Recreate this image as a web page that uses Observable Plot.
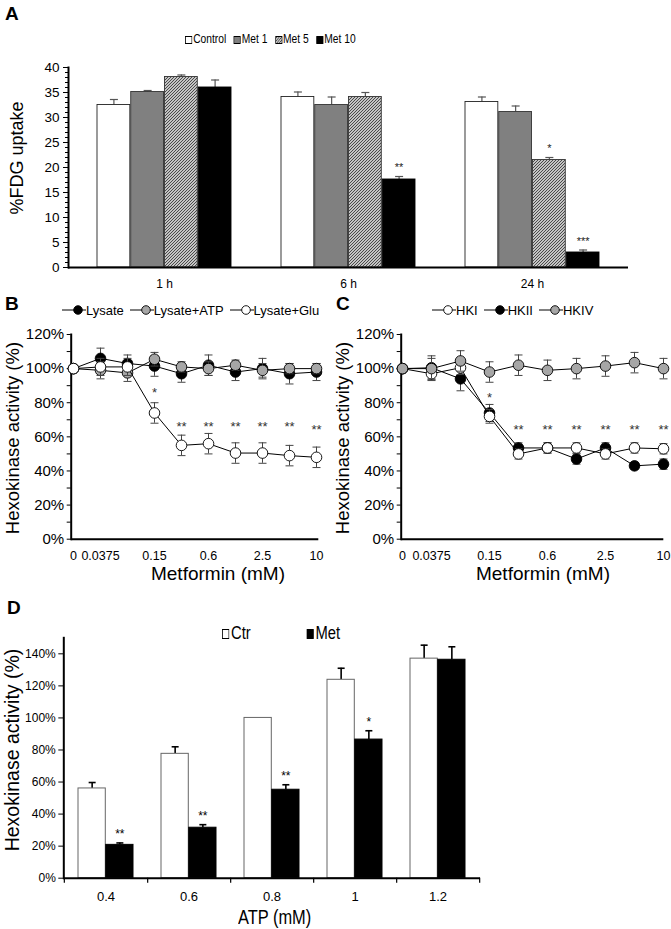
<!DOCTYPE html>
<html><head><meta charset="utf-8">
<script src="https://cdn.jsdelivr.net/npm/d3@7"></script>
<script src="https://cdn.jsdelivr.net/npm/@observablehq/plot@0.6"></script>
<style>
body{margin:0;background:#fff;}
#fig{position:relative;width:671px;height:929px;font-family:"Liberation Sans",Arial,sans-serif;color:#000;overflow:hidden;background:#fff}
.abs{position:absolute;white-space:nowrap;line-height:1}
.letter{font-weight:bold;font-size:19px}
.cond{transform-origin:0 50%;transform:scaleX(0.82)}
.ytitle{position:absolute;transform:translate(-50%,-50%) rotate(-90deg);white-space:nowrap;line-height:1}
.xtitle{position:absolute;transform:translate(-50%,-50%);white-space:nowrap;line-height:1}
</style></head><body>
<svg width="0" height="0" style="position:absolute">
  <defs>
    <pattern id="hatch" patternUnits="userSpaceOnUse" width="3" height="3">
      <rect width="3" height="3" fill="#c4c4c4"></rect>
      <path d="M-1,1 L1,-1 M0,3 L3,0 M2,4 L4,2" stroke="#4a4a4a" stroke-width="1"></path>
    </pattern>
  </defs>
</svg>
<div id="fig"></div>
<script>
// ---------- DATA ----------
// Panel A
const groupsA = ["1 h", "6 h", "24 h"];
const seriesA = ["Control", "Met 1", "Met 5", "Met 10"];
const controlA = [32.5, 34.1, 33.1];
const met1A = [35.1, 32.5, 31.1];
const met5A = [38.1, 34.1, 21.5];
const met10A = [36.0, 17.6, 3.0];
const controlErrA = [1.1, 1.0, 1.0];
const met1ErrA = [0.3, 1.6, 1.2];
const met5ErrA = [0.4, 0.9, 0.5];
const met10ErrA = [1.5, 0.6, 0.5];
const controlStarsA = ["", "", ""];
const met1StarsA = ["", "", ""];
const met5StarsA = ["", "", "*"];
const met10StarsA = ["", "**", "***"];
const yTicksA = [0, 5, 10, 15, 20, 25, 30, 35, 40];

// Panels B and C (metformin doses, mM)
const doses = ["0", "0.0375", "0.075", "0.15", "0.3", "0.6", "1.2", "2.5", "5", "10"];
const doseTicks = ["0", "0.0375", "0.15", "0.6", "2.5", "10"];
const yTicksBC = [0, 20, 40, 60, 80, 100, 120];

const lysate = [100, 106, 103, 101.5, 97, 102, 98, 100, 97, 98];
const lysateErr = [0, 6, 5, 6, 5, 6, 5, 6, 6, 5];
const lysateATP = [100, 99, 97.5, 105.5, 101, 100, 102, 99, 100, 100];
const lysateATPErr = [0, 5, 5, 4, 3, 4, 3, 4, 3, 3];
const lysateGlu = [100, 101, 101, 74, 55, 56, 50.5, 50.5, 49, 48];
const lysateGluErr = [0, 5, 5, 6, 6, 6, 6, 6, 6, 6];
const starsB = ["", "", "", "*", "**", "**", "**", "**", "**", "**"];
const starLevelB = [0, 0, 0, 86, 66, 66, 66, 66, 66, 64];

const hk1 = [100, 97, 100.5, 72, 50, 53.5, 53.5, 50, 53.5, 53];
const hk1Err = [0, 4, 4, 4, 3, 3, 3, 3, 3, 3];
const hk2 = [100, 100.5, 94, 74, 53.5, 53.5, 47, 53.5, 43, 44];
const hk2Err = [0, 7, 7, 5, 3, 3, 3, 3, 2, 3];
const hk4 = [100, 100, 104.5, 98, 102, 99, 100, 101.5, 103.5, 100];
const hk4Err = [0, 6, 6, 6, 6, 6, 6, 6, 6, 6];
const starsC = ["", "", "", "*", "**", "**", "**", "**", "**", "**"];
const starLevelC = [0, 0, 0, 83, 64, 64, 64, 64, 64, 64];

// Panel D
const atpLevels = ["0.4", "0.6", "0.8", "1", "1.2"];
const ctrD = [56, 77.6, 100, 123.8, 137];
const ctrErrD = [3.7, 4.4, 0, 7.2, 8.4];
const metD = [20.8, 31.5, 55.2, 86.5, 136.3];
const metErrD = [1.2, 1.9, 3.1, 5.5, 8.1];
const starsD = ["**", "**", "**", "*", ""];
const yTicksD = [0, 20, 40, 60, 80, 100, 120, 140];

// ---------- helpers ----------
const fig = document.getElementById("fig");
function place(node, left, top) {
  const d = document.createElement("div");
  d.style.position = "absolute"; d.style.left = left + "px"; d.style.top = top + "px";
  d.appendChild(node); fig.appendChild(d); return d;
}
function html(cls, text, left, top, style) {
  const d = document.createElement("div");
  d.className = cls; d.textContent = text;
  d.style.left = left + "px"; d.style.top = top + "px";
  Object.assign(d.style, style || {});
  fig.appendChild(d); return d;
}
const capSymbol = {draw(ctx, size) { const r = Math.sqrt(size / Math.PI); ctx.moveTo(-r, 0); ctx.lineTo(r, 0); }};

// ---------- Panel A ----------
{
  const W = 671, H = 250, ML = 68, MR = 43, MT = 17, MB = 33;
  const pi = 0.27, po = 0.15;
  const xs = d3.scaleBand().domain(groupsA).range([ML, W - MR]).paddingInner(pi).paddingOuter(po);
  const bw = xs.bandwidth(), bar = bw / 4;
  const vals = [controlA, met1A, met5A, met10A];
  const errs = [controlErrA, met1ErrA, met5ErrA, met10ErrA];
  const stars = [controlStarsA, met1StarsA, met5StarsA, met10StarsA];
  const fills = ["#ffffff", "#808080", "url(#hatch)", "#000000"];
  const strokes = ["#222", "#333", "#333", "#000"];
  const marks = [];
  seriesA.forEach((s, i) => {
    const rows = groupsA.map((g, j) => ({g, v: vals[i][j], e: errs[i][j], s: stars[i][j]}));
    const dx = (i + 0.5) * bar - bw / 2;
    marks.push(Plot.ruleX(rows, {x: "g", y1: "v", y2: d => d.v + d.e, dx, stroke: "#555", strokeWidth: 1.2}));
    marks.push(Plot.dot(rows, {x: "g", y: d => d.v + d.e, dx, symbol: capSymbol, r: 4, fill: "none", stroke: "#555", strokeWidth: 1.2}));
    marks.push(Plot.barY(rows, {x: "g", y: "v", fill: fills[i], stroke: strokes[i], strokeWidth: 0.9,
      insetLeft: i * bar, insetRight: (3 - i) * bar}));
    marks.push(Plot.text(rows.filter(d => d.s), {x: "g", y: d => d.v + d.e, text: "s", dx, dy: -9, fontSize: 11, fill: "#222"}));
  });
  const p = Plot.plot({
    width: W, height: H, marginLeft: ML, marginRight: MR, marginTop: MT, marginBottom: MB,
    style: {fontFamily: '"Liberation Sans", Arial, sans-serif', background: "transparent"},
    x: {type: "band", domain: groupsA, paddingInner: pi, paddingOuter: po, label: null},
    y: {domain: [0, 40], label: null},
    marks: [
      Plot.axisY({ticks: d3.range(0, 41, 1), tickSize: 3, tickFormat: () => "", label: null}),
      Plot.axisY({ticks: yTicksA, tickSize: 5, tickPadding: 4, fontSize: 13.5, label: null}),
      Plot.axisX({tickSize: 0, tickPadding: 12, fontSize: 12, label: null}),
      ...marks,
      Plot.ruleY([0], {stroke: "#000", strokeWidth: 2}),
      Plot.frame({anchor: "left", stroke: "#000", strokeWidth: 2})
    ]
  });
  place(p, 0, 50);
  html("abs letter", "A", 5, 4);
  html("ytitle", "%FDG uptake", 17, 158, {fontSize: "18px"});
  // legend
  const leg = document.createElement("div");
  leg.className = "abs cond"; leg.style.left = "185px"; leg.style.top = "33px"; leg.style.fontSize = "12.5px";
  const legFills = ["#fff", "#808080", "url(#hatch)", "#000"];
  seriesA.forEach((s, i) => {
    const span = document.createElement("span");
    span.style.marginRight = "9px";
    span.innerHTML = `<svg width="9" height="8" style="vertical-align:-0.5px;margin-right:1px"><rect x="0.5" y="0.5" width="8" height="7" fill="${legFills[i]}" stroke="#000"/></svg>`;
    span.appendChild(document.createTextNode(s));
    leg.appendChild(span);
  });
  fig.appendChild(leg);
}

// ---------- Panels B & C ----------
function linePanel(series, stars, starLevel, W, ML, MR) {
  const H = 270, MT = 34, MB = 31.3;
  const marks = [];
  series.forEach(s => {
    const rows = doses.map((d, j) => ({d, v: s.v[j], e: s.e[j]}));
    const er = rows.filter(r => r.e > 0);
    marks.push(Plot.ruleX(er, {x: "d", y1: r => r.v - r.e, y2: r => r.v + r.e, stroke: "#444", strokeWidth: 1}));
    marks.push(Plot.dot(er, {x: "d", y: r => r.v + r.e, symbol: capSymbol, r: 4, fill: "none", stroke: "#444", strokeWidth: 1}));
    marks.push(Plot.dot(er, {x: "d", y: r => r.v - r.e, symbol: capSymbol, r: 4, fill: "none", stroke: "#444", strokeWidth: 1}));
    marks.push(Plot.line(rows, {x: "d", y: "v", stroke: "#000", strokeWidth: 1}));
    marks.push(Plot.dot(rows, {x: "d", y: "v", r: 5.3, fill: s.fill, stroke: "#000", strokeWidth: 0.9}));
  });
  const starRows = doses.map((d, j) => ({d, s: stars[j], y: starLevel[j]})).filter(r => r.s);
  return Plot.plot({
    width: W, height: H, marginLeft: ML, marginRight: MR, marginTop: MT, marginBottom: MB,
    style: {fontFamily: '"Liberation Sans", Arial, sans-serif', background: "transparent"},
    x: {type: "point", domain: doses, padding: 0, label: null},
    y: {domain: [0, 120], label: null},
    marks: [
      Plot.axisY({ticks: d3.range(10, 120, 20), tickSize: 4, tickFormat: () => "", label: null}),
      Plot.axisY({ticks: yTicksBC, tickSize: 4, tickPadding: 3, fontSize: 15, tickFormat: d => d + "%", label: null}),
      Plot.axisX({ticks: doseTicks, tickSize: 0, tickPadding: 12, fontSize: 12.5, label: null}),
      Plot.ruleY([0], {stroke: "#000", strokeWidth: 2}),
      Plot.frame({anchor: "left", stroke: "#000", strokeWidth: 2}),
      ...marks,
      Plot.text(starRows, {x: "d", y: "y", text: "s", fontSize: 13, fill: "#333"})
    ]
  });
}
{
  const pB = linePanel([
    {v: lysate, e: lysateErr, fill: "#000"},
    {v: lysateATP, e: lysateATPErr, fill: "#a6a6a6"},
    {v: lysateGlu, e: lysateGluErr, fill: "#fff"}
  ], starsB, starLevelB, 335, 70.7, 16.7);
  place(pB, 0, 300);
  const pC = linePanel([
    {v: hk2, e: hk2Err, fill: "#000"},
    {v: hk1, e: hk1Err, fill: "#fff"},
    {v: hk4, e: hk4Err, fill: "#a6a6a6"}
  ], starsC, starLevelC, 341, 70.7, 7.7);
  place(pC, 330, 300);
  html("abs letter", "B", 5, 294);
  html("abs letter", "C", 336, 294);
  html("ytitle", "Hexokinase activity (%)", 13, 438, {fontSize: "18.5px"});
  html("ytitle", "Hexokinase activity (%)", 343, 438, {fontSize: "18.5px"});
  html("xtitle", "Metformin (mM)", 218, 573, {fontSize: "19px"});
  html("xtitle", "Metformin (mM)", 543, 573, {fontSize: "19px"});
  function lineLegend(items, left, top) {
    const d = document.createElement("div");
    d.className = "abs"; d.style.left = left + "px"; d.style.top = top + "px"; d.style.fontSize = "13px";
    items.forEach(([name, fill]) => {
      const sp = document.createElement("span");
      sp.style.marginRight = "6px";
      sp.innerHTML = `<svg width="24" height="12" style="vertical-align:-1px"><line x1="0" y1="6" x2="24" y2="6" stroke="#000"/><circle cx="16" cy="6" r="4.3" fill="${fill}" stroke="#000" stroke-width="0.9"/></svg>`;
      sp.appendChild(document.createTextNode(name));
      d.appendChild(sp);
    });
    fig.appendChild(d);
  }
  lineLegend([["Lysate", "#000"], ["Lysate+ATP", "#a6a6a6"], ["Lysate+Glu", "#fff"]], 62, 304);
  lineLegend([["HKI", "#fff"], ["HKII", "#000"], ["HKIV", "#a6a6a6"]], 432, 304);
}

// ---------- Panel D ----------
{
  const W = 500, H = 300, ML = 63.3, MR = 20, MT = 17.3, MB = 42.3;
  const pi = 0.335, po = 0.1675;
  const xs = d3.scaleBand().domain(atpLevels).range([ML, W - MR]).paddingInner(pi).paddingOuter(po);
  const bw = xs.bandwidth(), step = xs.step();
  const ctrRows = atpLevels.map((a, j) => ({a, v: ctrD[j], e: ctrErrD[j]}));
  const metRows = atpLevels.map((a, j) => ({a, v: metD[j], e: metErrD[j], s: starsD[j]}));
  const p = Plot.plot({
    width: W, height: H, marginLeft: ML, marginRight: MR, marginTop: MT, marginBottom: MB,
    style: {fontFamily: '"Liberation Sans", Arial, sans-serif', background: "transparent"},
    x: {type: "band", domain: atpLevels, paddingInner: pi, paddingOuter: po, label: null},
    y: {domain: [0, 150], label: null},
    marks: [
      Plot.axisY({ticks: yTicksD, tickSize: 5, tickPadding: 3, fontSize: 12, tickFormat: d => d + "%", label: null}),
      Plot.axisX({tickSize: 0, tickPadding: 14, fontSize: 13, label: null}),
      Plot.ruleX(atpLevels, {x: d => d, y1: 0, y2: -3.2, dx: step / 2, stroke: "#000", strokeWidth: 1.2}),
      Plot.ruleX(atpLevels.slice(0, 1), {x: d => d, y1: 0, y2: -3.2, dx: -step / 2, stroke: "#000", strokeWidth: 1.2}),
      Plot.ruleX(ctrRows.filter(r => r.e > 0), {x: "a", y1: "v", y2: r => r.v + r.e, dx: -bw / 4, stroke: "#000", strokeWidth: 1.6}),
      Plot.dot(ctrRows.filter(r => r.e > 0), {x: "a", y: r => r.v + r.e, dx: -bw / 4, symbol: capSymbol, r: 3.5, fill: "none", stroke: "#000", strokeWidth: 1.6}),
      Plot.ruleX(metRows, {x: "a", y1: "v", y2: r => r.v + r.e, dx: bw / 4, stroke: "#000", strokeWidth: 1.6}),
      Plot.dot(metRows, {x: "a", y: r => r.v + r.e, dx: bw / 4, symbol: capSymbol, r: 3.5, fill: "none", stroke: "#000", strokeWidth: 1.6}),
      Plot.barY(ctrRows, {x: "a", y: "v", fill: "#fff", stroke: "#666", strokeWidth: 1, insetRight: bw / 2}),
      Plot.barY(metRows, {x: "a", y: "v", fill: "#000", stroke: "#000", strokeWidth: 1, insetLeft: bw / 2}),
      Plot.text(metRows.filter(r => r.s), {x: "a", y: r => r.v + r.e, text: "s", dx: bw / 4, dy: -9, fontSize: 12}),
      Plot.ruleY([0], {stroke: "#000", strokeWidth: 2}),
      Plot.frame({anchor: "left", stroke: "#000", strokeWidth: 2})
    ]
  });
  place(p, 0, 620);
  html("abs letter", "D", 7, 598);
  html("ytitle", "Hexokinase activity (%)", 13, 750, {fontSize: "19.5px"});
  html("abs cond", "ATP (mM)", 238, 907, {fontSize: "20px"});
  const leg = document.createElement("div");
  leg.className = "abs cond"; leg.style.left = "222px"; leg.style.top = "624px"; leg.style.fontSize = "18px";
  leg.innerHTML = `<span style="margin-right:68px"><svg width="9" height="10" style="vertical-align:0px;margin-right:2px"><rect x="0.5" y="0.5" width="8" height="9" fill="#fff" stroke="#000"/></svg>Ctr</span><span><svg width="9" height="10" style="vertical-align:0px;margin-right:2px"><rect x="0.5" y="0.5" width="8" height="9" fill="#000" stroke="#000"/></svg>Met</span>`;
  fig.appendChild(leg);
}
</script>
</body></html>
